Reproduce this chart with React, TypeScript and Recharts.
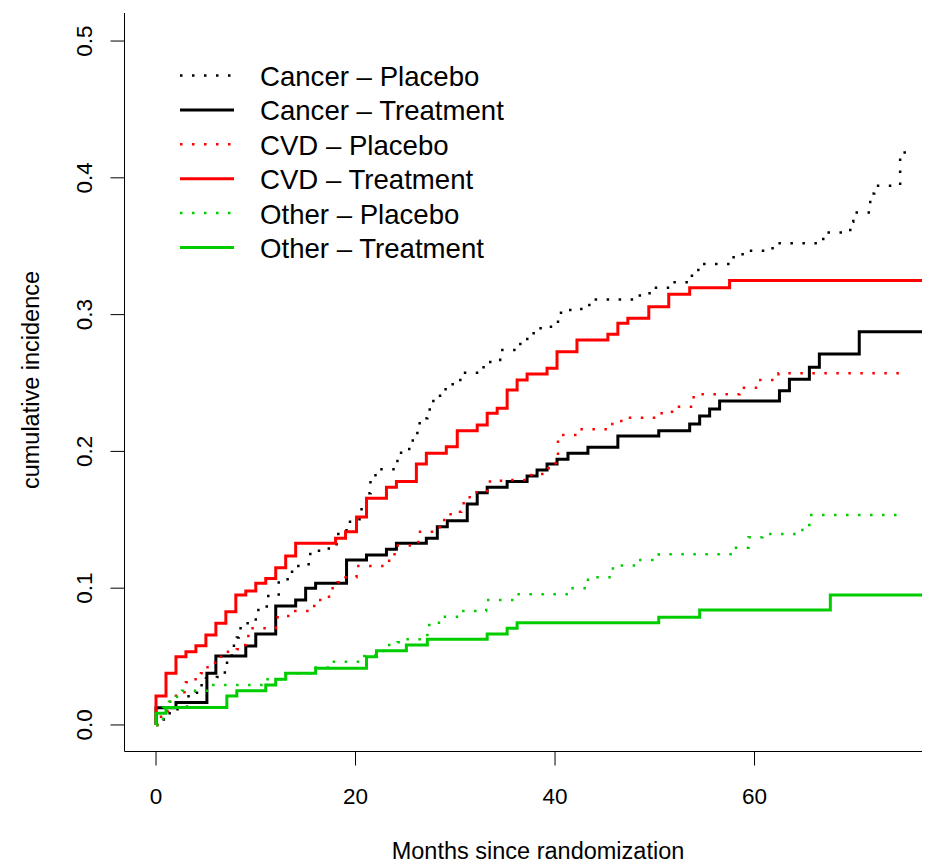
import { LineChart, Line, XAxis, YAxis, Legend } from "recharts";

type Pt = [number, number];

// [month, cumulative incidence] step points
const cancerPlacebo: Pt[] = [
  [0, 0], [0.6, 0.004], [1.2, 0.0085], [2, 0.0115], [3.1, 0.021], [4, 0.0236], [4.4, 0.029],
  [5, 0.034], [6.1, 0.035], [6.9, 0.0455], [7.6, 0.058], [8.1, 0.064], [8.3, 0.0707], [9, 0.0743],
  [10, 0.084], [11.1, 0.0943], [12.3, 0.1065], [13.4, 0.112], [14.1, 0.1162], [15.3, 0.125],
  [16.1, 0.1274], [17.1, 0.129], [18.1, 0.1396], [19.1, 0.1486], [20.4, 0.1577], [21.1, 0.1694],
  [21.5, 0.1786], [22, 0.187], [24.2, 0.199], [25.2, 0.2018], [25.6, 0.208], [26.2, 0.2205],
  [26.9, 0.2242], [27.2, 0.2307], [27.6, 0.2368], [28.2, 0.2407], [28.8, 0.2454], [29.5, 0.249],
  [30.2, 0.2522], [30.7, 0.2575], [32.6, 0.2615], [33.3, 0.2654], [34.3, 0.2668], [34.5, 0.2741],
  [36.2, 0.2785], [36.9, 0.2822], [37.6, 0.2863], [38.3, 0.29], [39.3, 0.2912], [40, 0.2948],
  [40.3, 0.3014], [41.3, 0.3034], [42.3, 0.3041], [43.1, 0.307], [43.8, 0.311], [48.5, 0.3156],
  [49.8, 0.3197], [51.6, 0.3236], [53.5, 0.3285], [54, 0.3326], [54.6, 0.337], [57.5, 0.3419],
  [58.5, 0.3441], [59.3, 0.3467], [61.5, 0.3485], [62.2, 0.3521], [66.6, 0.3553], [67.1, 0.3601],
  [69.6, 0.3679], [69.9, 0.3747], [71.6, 0.3886], [72, 0.3942], [74.6, 0.4186], [75.4, 0.4222],
];

const cancerTreatment: Pt[] = [
  [0, 0], [0, 0.0125], [2, 0.0165], [5.1, 0.0378], [6, 0.0504], [9, 0.0577], [10, 0.0665],
  [12, 0.087], [14, 0.0914], [15, 0.0999], [16, 0.1036], [19.1, 0.1206], [21.1, 0.1243],
  [23.1, 0.1284], [24.1, 0.1328], [27.1, 0.1365], [28.2, 0.145], [29.2, 0.1493], [31.2, 0.1615],
  [32.2, 0.1698], [33.2, 0.1737], [35.2, 0.1779], [37.2, 0.182], [38.2, 0.1864], [39.2, 0.1908],
  [40.2, 0.1942], [41.3, 0.1986], [43.3, 0.203], [46.3, 0.2113], [50.4, 0.2151], [53.5, 0.22],
  [54.5, 0.2259], [55.5, 0.231], [56.5, 0.2368], [62.5, 0.2444], [63.5, 0.2527], [65.5, 0.2615],
  [66.5, 0.2712], [70.5, 0.2875], [76.8, 0.2875],
];

const cvdPlacebo: Pt[] = [
  [0, 0], [0.5, 0.01], [1.2, 0.017], [2, 0.024], [3, 0.0312], [3.8, 0.0334], [4.5, 0.0378],
  [5, 0.0422], [5.7, 0.0455], [6.3, 0.0499], [7, 0.0536], [8.1, 0.0553], [8.8, 0.0585], [9, 0.065],
  [9.5, 0.0707], [12, 0.0787], [13, 0.0797], [13.8, 0.0833], [15.7, 0.087], [16.3, 0.0914],
  [17.1, 0.0938], [17.5, 0.0999], [18.2, 0.1043], [18.8, 0.108], [20.1, 0.1162], [23.1, 0.12],
  [23.7, 0.1248], [24.1, 0.1312], [26.3, 0.1413], [28.2, 0.1445], [28.7, 0.1499], [29.4, 0.154],
  [30.2, 0.1559], [30.6, 0.162], [31.2, 0.1664], [31.9, 0.1701], [33.2, 0.1779], [34.3, 0.1786],
  [35.4, 0.179], [37.3, 0.1827], [38.3, 0.1835], [39.3, 0.1876], [39.8, 0.1913], [40.3, 0.212],
  [42.4, 0.2161], [45.4, 0.22], [46.3, 0.2222], [47.2, 0.2246], [50.4, 0.2278], [51.4, 0.229],
  [52.1, 0.2327], [53.9, 0.2417], [58.5, 0.2466], [60.4, 0.2522], [62.4, 0.2571], [75.2, 0.2571],
];

const cvdTreatment: Pt[] = [
  [0, 0], [0, 0.0212], [1, 0.0378], [2, 0.0499], [3, 0.0536], [4, 0.058], [5, 0.0658], [6, 0.0743],
  [7, 0.0828], [8, 0.095], [9, 0.098], [10, 0.1036], [11, 0.107], [12, 0.115], [13, 0.1235],
  [14, 0.1328], [18, 0.1365], [19, 0.1413], [20.1, 0.152], [21.1, 0.1657], [23.1, 0.1737],
  [24.1, 0.1779], [26.1, 0.1908], [27.1, 0.1986], [29.1, 0.2034], [30.2, 0.2151], [32.2, 0.2193],
  [33.2, 0.2278], [34.2, 0.2315], [35.2, 0.2449], [36.2, 0.2522], [37.2, 0.2566], [39.2, 0.2607],
  [40.2, 0.2729], [42.2, 0.2814], [45.3, 0.2856], [46.3, 0.2936], [47.3, 0.2973], [49.4, 0.3058],
  [51.4, 0.3148], [53.5, 0.3197], [57.5, 0.325], [76.8, 0.325],
];

const otherPlacebo: Pt[] = [
  [0, 0], [0.7, 0.0127], [1.3, 0.017], [2, 0.0207], [2.6, 0.0251], [5.5, 0.0292], [11, 0.0334],
  [12.5, 0.0378], [15.5, 0.042], [17.5, 0.0463], [20.5, 0.0504], [22, 0.054], [23.2, 0.0585],
  [24.2, 0.0604], [25.1, 0.0626], [27.2, 0.0731], [28.1, 0.0748], [28.8, 0.0792], [30.4, 0.0833],
  [33.1, 0.0914], [36.2, 0.0955], [41.5, 0.0999], [43.3, 0.108], [45.8, 0.1165], [48.2, 0.1206],
  [50.4, 0.1248], [57.8, 0.1296], [59.4, 0.1372], [60.8, 0.1396], [64.4, 0.1425], [65.1, 0.1462],
  [65.5, 0.1535], [75, 0.1535],
];

const otherTreatment: Pt[] = [
  [0, 0], [0, 0.0085], [1, 0.0127], [7.1, 0.0212], [8.1, 0.0251], [11, 0.0292], [12, 0.0334],
  [13, 0.0378], [16, 0.0414], [21.1, 0.0499], [22.1, 0.0543], [25.1, 0.0585], [27.2, 0.0626],
  [33.2, 0.0665], [35.2, 0.0707], [36.2, 0.0748], [50.4, 0.0787], [54.5, 0.0841], [67.6, 0.095],
  [76.8, 0.095],
];

const xTicks = [0, 20, 40, 60];
const yTicks = [0, 0.1, 0.2, 0.3, 0.4, 0.5];

const series = [
  { name: "Cancer \u2013 Placebo", pts: cancerPlacebo, color: "#000000", dotted: true },
  { name: "Cancer \u2013 Treatment", pts: cancerTreatment, color: "#000000", dotted: false },
  { name: "CVD \u2013 Placebo", pts: cvdPlacebo, color: "#FF0000", dotted: true },
  { name: "CVD \u2013 Treatment", pts: cvdTreatment, color: "#FF0000", dotted: false },
  { name: "Other \u2013 Placebo", pts: otherPlacebo, color: "#00CD00", dotted: true },
  { name: "Other \u2013 Treatment", pts: otherTreatment, color: "#00CD00", dotted: false },
];

const FONT = '"Liberation Sans", Arial, Helvetica, sans-serif';
const DOTS = "2.5 9.5";

const toRows = (pts: Pt[]) => pts.map(([t, v]) => ({ t, v }));

function XTick(p: any) {
  return (
    <text x={p.x} y={804} textAnchor="middle" fontSize={22.5} fontFamily={FONT} fill="#000">
      {p.payload.value}
    </text>
  );
}

function YTick(p: any) {
  return (
    <text x={92} y={p.y} transform={`rotate(-90, 92, ${p.y})`} textAnchor="middle" fontSize={22.5} fontFamily={FONT} fill="#000">
      {Number(p.payload.value).toFixed(1)}
    </text>
  );
}

function LegendBox() {
  return (
    <svg width={935} height={300} style={{ display: "block" }}>
      {series.map((s, i) => {
        const y = 75.5 + i * 34.4;
        return (
          <g key={s.name}>
            <line x1={180} x2={234} y1={y} y2={y} stroke={s.color} strokeWidth={s.dotted ? 2.5 : 3}
              strokeDasharray={s.dotted ? DOTS : undefined} />
            <text x={260} y={y + 10.5} fontSize={27.6} fontFamily={FONT} fill="#000">{s.name}</text>
          </g>
        );
      })}
    </svg>
  );
}

export default function App() {
  return (
    <div style={{ position: "absolute", left: 0, top: 0, width: 935, height: 866, background: "#fff" }}>
      <LineChart width={935} height={866} margin={{ top: 13, right: 13, bottom: 0, left: 0.5 }}>
        <XAxis
          dataKey="t"
          type="number"
          height={114.5}
          domain={[-3.16, 76.79]}
          allowDataOverflow
          ticks={xTicks}
          tick={<XTick />}
          tickSize={14}
          stroke="#000"
          tickLine={{ stroke: "#000" }}
          axisLine={{ stroke: "#000" }}
          label={() => (
            <text x={538} y={859} textAnchor="middle" fontSize={23.5} fontFamily={FONT} fill="#000">
              Months since randomization
            </text>
          )}
        />
        <YAxis
          type="number"
          width={124}
          domain={[-0.0194, 0.5205]}
          allowDataOverflow
          ticks={yTicks}
          tick={<YTick />}
          tickSize={14}
          stroke="#000"
          tickLine={{ stroke: "#000" }}
          axisLine={{ stroke: "#000" }}
          label={() => (
            <text x={39} y={380} transform="rotate(-90, 39, 380)" textAnchor="middle" fontSize={23.5} fontFamily={FONT} fill="#000">
              cumulative incidence
            </text>
          )}
        />
        <Legend
          layout="vertical"
          align="center"
          verticalAlign="middle"
          content={() => <LegendBox />}
          wrapperStyle={{ position: "absolute", left: 0, top: 0, width: 935, height: 300, pointerEvents: "none" }}
        />
        {series.map((s) => (
          <Line
            key={s.name}
            name={s.name}
            data={toRows(s.pts)}
            dataKey="v"
            type="stepAfter"
            stroke={s.color}
            strokeWidth={s.dotted ? 2.5 : 3}
            strokeDasharray={s.dotted ? DOTS : undefined}
            dot={false}
            activeDot={false}
            isAnimationActive={false}
          />
        ))}
      </LineChart>
    </div>
  );
}
